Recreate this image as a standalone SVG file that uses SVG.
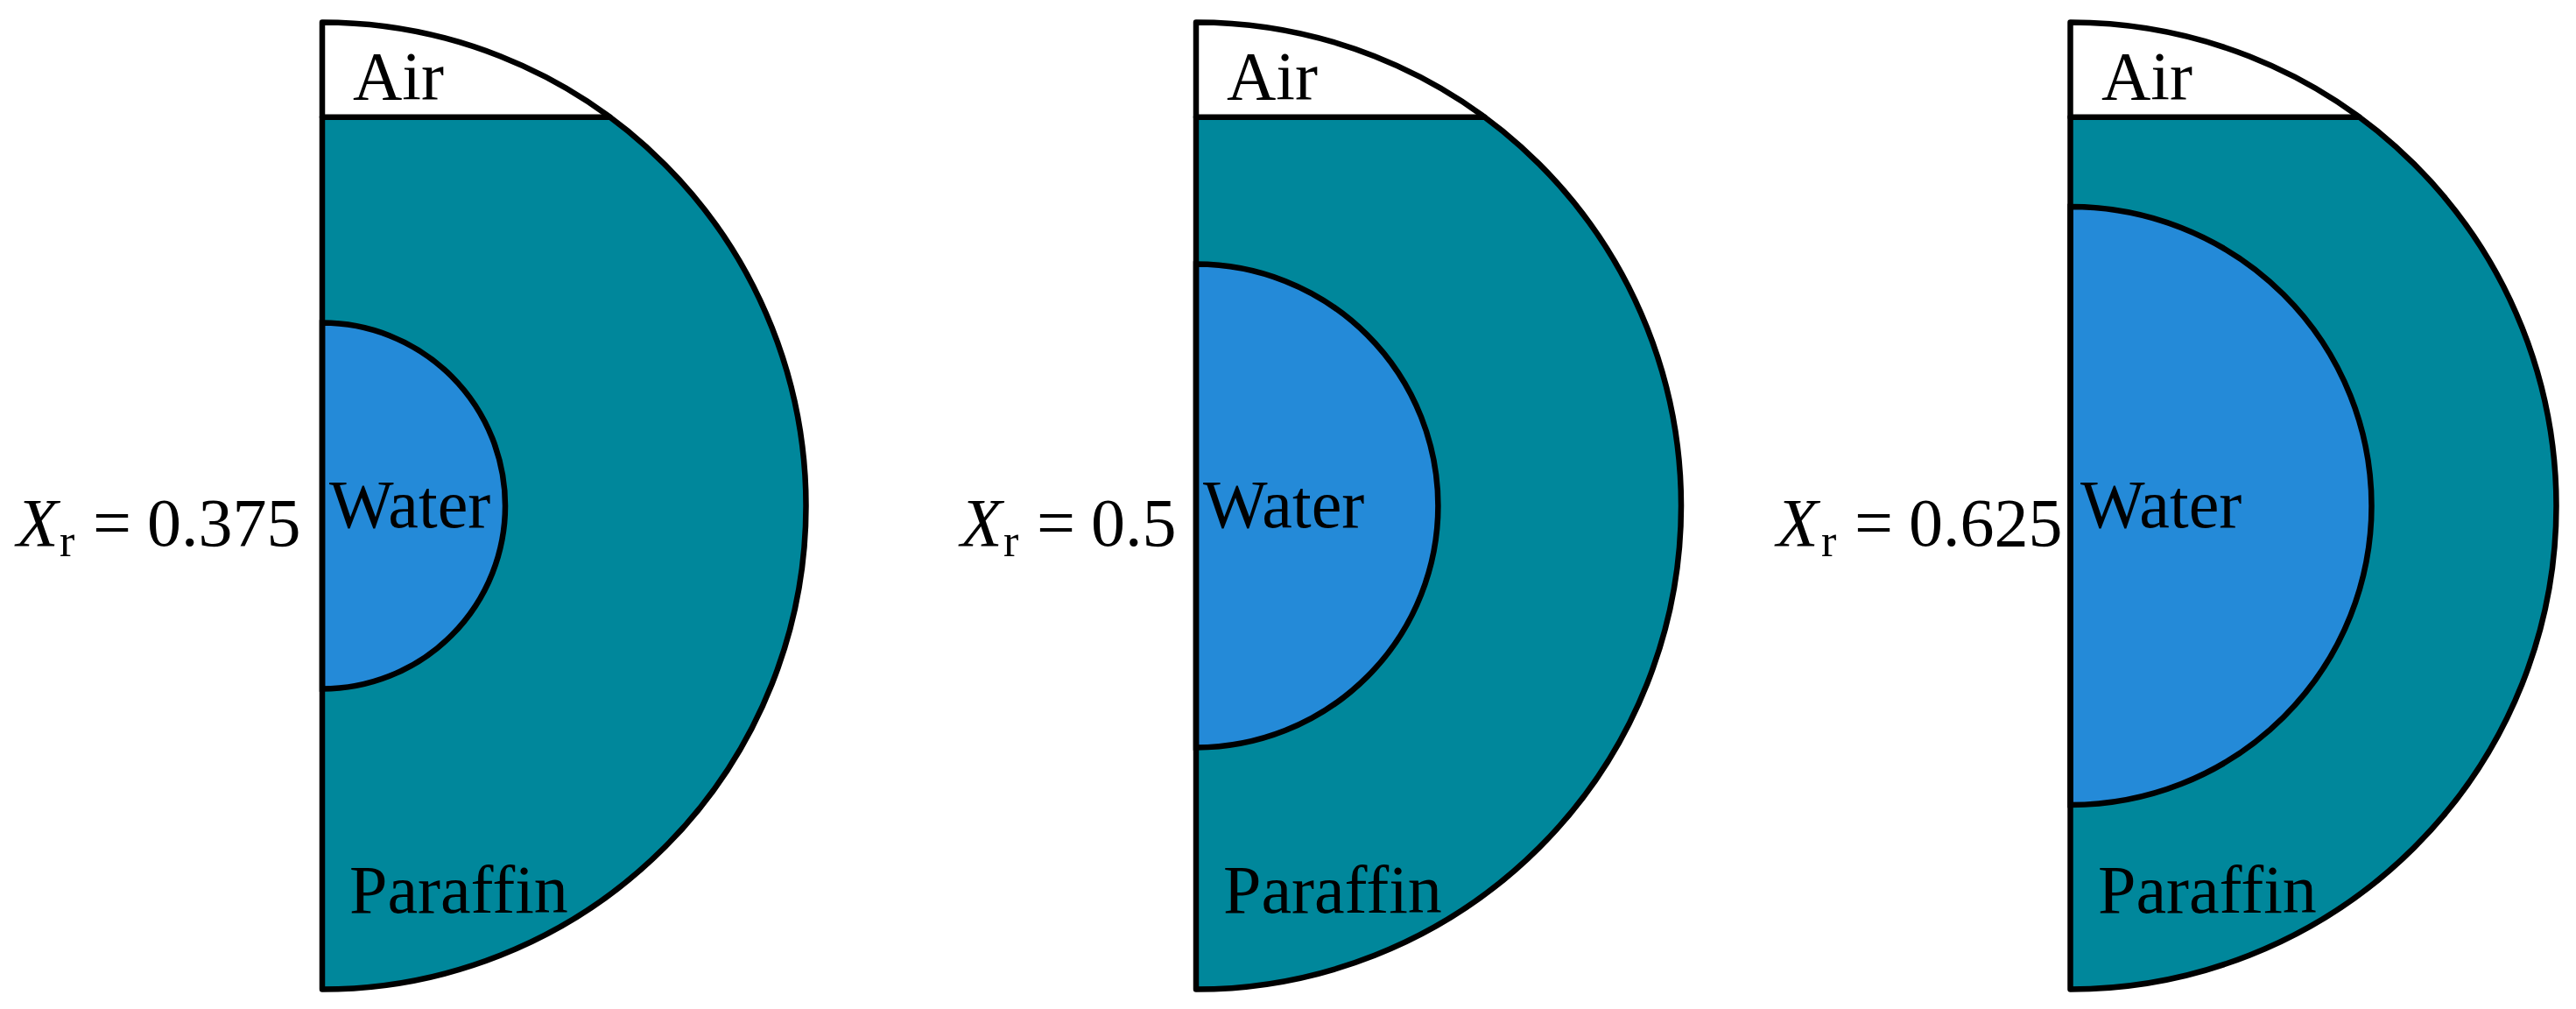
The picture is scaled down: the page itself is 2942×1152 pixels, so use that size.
<svg xmlns="http://www.w3.org/2000/svg" width="2942" height="1152" viewBox="0 0 2942 1152">
<style>
.bg{fill:#ffffff}
.par{fill:#00879B;stroke:none}
.wat{fill:#248AD8;stroke:#000;stroke-width:6.5}
.out{fill:none;stroke:#000;stroke-width:6.5;stroke-linejoin:round;stroke-linecap:round}
.lbl{font-family:"Liberation Serif","Times New Roman",serif;font-size:78px;fill:#000}
.it{font-style:italic}
.sub{font-family:"Liberation Serif","Times New Roman",serif;font-size:52px;fill:#000}
</style>
<rect class="bg" x="0" y="0" width="2942" height="1152"/>

<g id="panel1">
  <path class="par" d="M368,133.7 L696.5,133.7 A552.5,552 0 0 1 368,1129.5 Z"/>
  <path class="wat" d="M368,368.5 A209,209 0 0 1 368,786.5 Z"/>
  <path class="out" d="M368,25.5 A552.5,552 0 0 1 368,1129.5 Z"/>
  <line class="out" x1="368" y1="133.7" x2="696.5" y2="133.7"/>
  <text class="lbl" x="403" y="113">Air</text>
  <text class="lbl" x="376" y="602">Water</text>
  <text class="lbl" x="399" y="1042">Paraffin</text>
  <text class="lbl it" x="19" y="623">X</text>
  <text class="sub" x="68" y="635">r</text>
  <text class="lbl" x="106" y="623">=</text>
  <text class="lbl" x="168" y="623">0.375</text>
</g>

<g id="panel2">
  <path class="par" d="M1366,133.7 L1695.4,133.7 A554,552 0 0 1 1366,1129.5 Z"/>
  <path class="wat" d="M1366,301.5 A276.5,276 0 0 1 1366,853.5 Z"/>
  <path class="out" d="M1366,25.5 A554,552 0 0 1 1366,1129.5 Z"/>
  <line class="out" x1="1366" y1="133.7" x2="1695.4" y2="133.7"/>
  <text class="lbl" x="1401" y="113">Air</text>
  <text class="lbl" x="1374" y="602">Water</text>
  <text class="lbl" x="1397" y="1042">Paraffin</text>
  <text class="lbl it" x="1097" y="623">X</text>
  <text class="sub" x="1146" y="635">r</text>
  <text class="lbl" x="1184" y="623">=</text>
  <text class="lbl" x="1246" y="623">0.5</text>
</g>

<g id="panel3">
  <path class="par" d="M2364.5,133.7 L2694.5,133.7 A555,552 0 0 1 2364.5,1129.5 Z"/>
  <path class="wat" d="M2364.5,236 A344,341.5 0 0 1 2364.5,919 Z"/>
  <path class="out" d="M2364.5,25.5 A555,552 0 0 1 2364.5,1129.5 Z"/>
  <line class="out" x1="2364.5" y1="133.7" x2="2694.5" y2="133.7"/>
  <text class="lbl" x="2400" y="113">Air</text>
  <text class="lbl" x="2376" y="602">Water</text>
  <text class="lbl" x="2396" y="1042">Paraffin</text>
  <text class="lbl it" x="2029" y="623">X</text>
  <text class="sub" x="2080" y="635">r</text>
  <text class="lbl" x="2118" y="623">=</text>
  <text class="lbl" x="2180" y="623">0.625</text>
</g>

<g id="connectors"></g>
</svg>
